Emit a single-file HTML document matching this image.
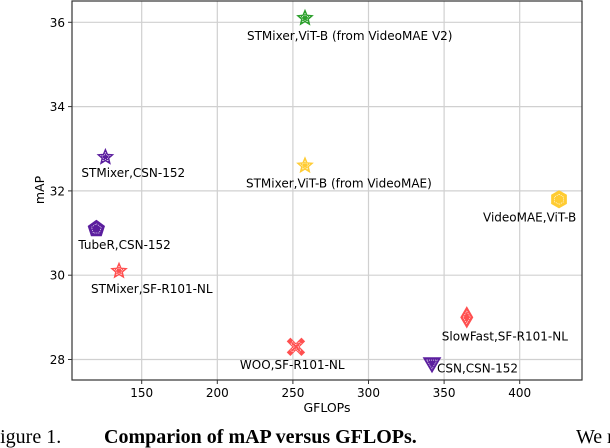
<!DOCTYPE html>
<html><head><meta charset="utf-8">
<style>
html,body{margin:0;padding:0;background:#fff;width:610px;height:448px;overflow:hidden;}
svg{display:block;}
text{font-family:"DejaVu Sans","Liberation Sans",sans-serif;}
.cap{font-family:"Liberation Serif",serif;font-size:20px;}
</style></head>
<body>
<svg id="chart" width="610" height="448" viewBox="0 0 610 448" xmlns="http://www.w3.org/2000/svg">
<g id="grid"></g>
<g id="axes"></g>
<g id="marks"></g>
<g id="labels"></g>
<text x="327" y="412" font-size="12.5" text-anchor="middle">GFLOPs</text>
<text transform="translate(44,190) rotate(-90)" font-size="12.5" text-anchor="middle">mAP</text>
<text class="cap" x="-11" y="443"><tspan>Figure 1.</tspan><tspan x="104" font-weight="bold">Comparion of mAP versus GFLOPs.</tspan><tspan x="576">We ren</tspan></text>
</svg>
<script>
const names = ["STMixer,ViT-B (from VideoMAE V2)","STMixer,CSN-152","TubeR,CSN-152","STMixer,SF-R101-NL","STMixer,ViT-B (from VideoMAE)","VideoMAE,ViT-B","SlowFast,SF-R101-NL","WOO,SF-R101-NL","CSN,CSN-152"];
const gflops = [258, 126, 120, 135, 258, 426, 365, 252, 342];
const mapVals = [36.1, 32.8, 31.1, 30.1, 32.6, 31.8, 29.0, 28.3, 27.9];
const shapes = ["star","star","pentagon","star","star","hexagon","diamond","x","triangle"];
const colors = ["#2ca02c","#5b1e9e","#5b1e9e","#ff5050","#ffcc33","#ffcc33","#ff5050","#ff5050","#5b1e9e"];
const xTicks = [150,200,250,300,350,400];
const yTicks = [28,30,32,34,36];

const L=72,R=582,T=1,B=380;
function xs(v){return 141.7+(v-150)*1.512;}
function ys(v){return 22.3+(36-v)*42.15;}
const NS="http://www.w3.org/2000/svg";
function mk(tag,attrs,parent){const e=document.createElementNS(NS,tag);for(const k in attrs)e.setAttribute(k,attrs[k]);parent.appendChild(e);return e;}
const grid=document.getElementById('grid'),axes=document.getElementById('axes'),marks=document.getElementById('marks'),labels=document.getElementById('labels');
xTicks.forEach(t=>{const x=xs(t);
 const g=mk('line',{x1:x,x2:x,y1:T,y2:B,stroke:'#d0d0d0','stroke-width':1.2},grid);
 
 
 const tk=mk('line',{x1:x,x2:x,y1:B,y2:B+4,stroke:'#333'},axes);
 
 
 const lb=mk('text',{x:x,y:397,'font-size':12,'text-anchor':'middle'},axes);lb.textContent=t;
 
 
});
yTicks.forEach(t=>{const y=ys(t);
 const g=mk('line',{x1:L,x2:R,y1:y,y2:y,stroke:'#d0d0d0','stroke-width':1.2},grid);
 
 
 const tk=mk('line',{x1:L-4,x2:L,y1:y,y2:y,stroke:'#333'},axes);
 
 
 const lb=mk('text',{x:L-7,y:y+4.5,'font-size':12,'text-anchor':'end'},axes);lb.textContent=t;
 
 
});
const frame=mk('rect',{x:L,y:T,width:R-L,height:B-T,fill:'none',stroke:'#333','stroke-width':1.2},axes);



function poly(n,r,rot,inner){const p=[];const m=inner?n*2:n;for(let i=0;i<m;i++){const a=rot+i*Math.PI*2/m;const rr=inner&&i%2?r*inner:r;p.push((rr*Math.sin(a)).toFixed(2)+','+(-rr*Math.cos(a)).toFixed(2));}return p.join(' ');}
function shapePts(s,r){
 if(s==='star')return poly(5,r,0,0.45);
 if(s==='pentagon')return poly(5,r,0);
 if(s==='hexagon')return poly(6,r,0);
 if(s==='diamond')return `0,${-r*1.2} ${r*0.7},0 0,${r*1.2} ${-r*0.7},0`;
 if(s==='triangle')return `${-r},${-r*0.7} ${r},${-r*0.7} 0,${r}`;
 const a=r*0.35,b=r;return `${-b},${-b+a} ${-b+a},${-b} 0,${-a} ${b-a},${-b} ${b},${-b+a} ${a},0 ${b},${b-a} ${b-a},${b} 0,${a} ${-b+a},${b} ${-b},${b-a} ${-a},0`;
}
const labOff=[[-58,22],[-24,20],[-18,20],[-28,22],[-59,22],[-76,22],[-25,23],[-56,22],[5,9]];
names.forEach((n,i)=>{
 const x=xs(gflops[i]),y=ys(mapVals[i]);
 const g=mk('g',{transform:`translate(${x},${y})`},marks);
 
 
 const r=shapes[i]==='star'?8:8.5;
 mk('polygon',{points:shapePts(shapes[i],r),fill:colors[i],stroke:colors[i],'stroke-width':1},g);
 mk('polygon',{points:shapePts(shapes[i],r*0.6),fill:'none',stroke:'#fff','stroke-width':0.7,'stroke-dasharray':'1 1'},g);
 const t=mk('text',{x:x+labOff[i][0],y:y+labOff[i][1],'font-size':12},labels);t.textContent=n;
 
 
});
</script>
</body></html>
